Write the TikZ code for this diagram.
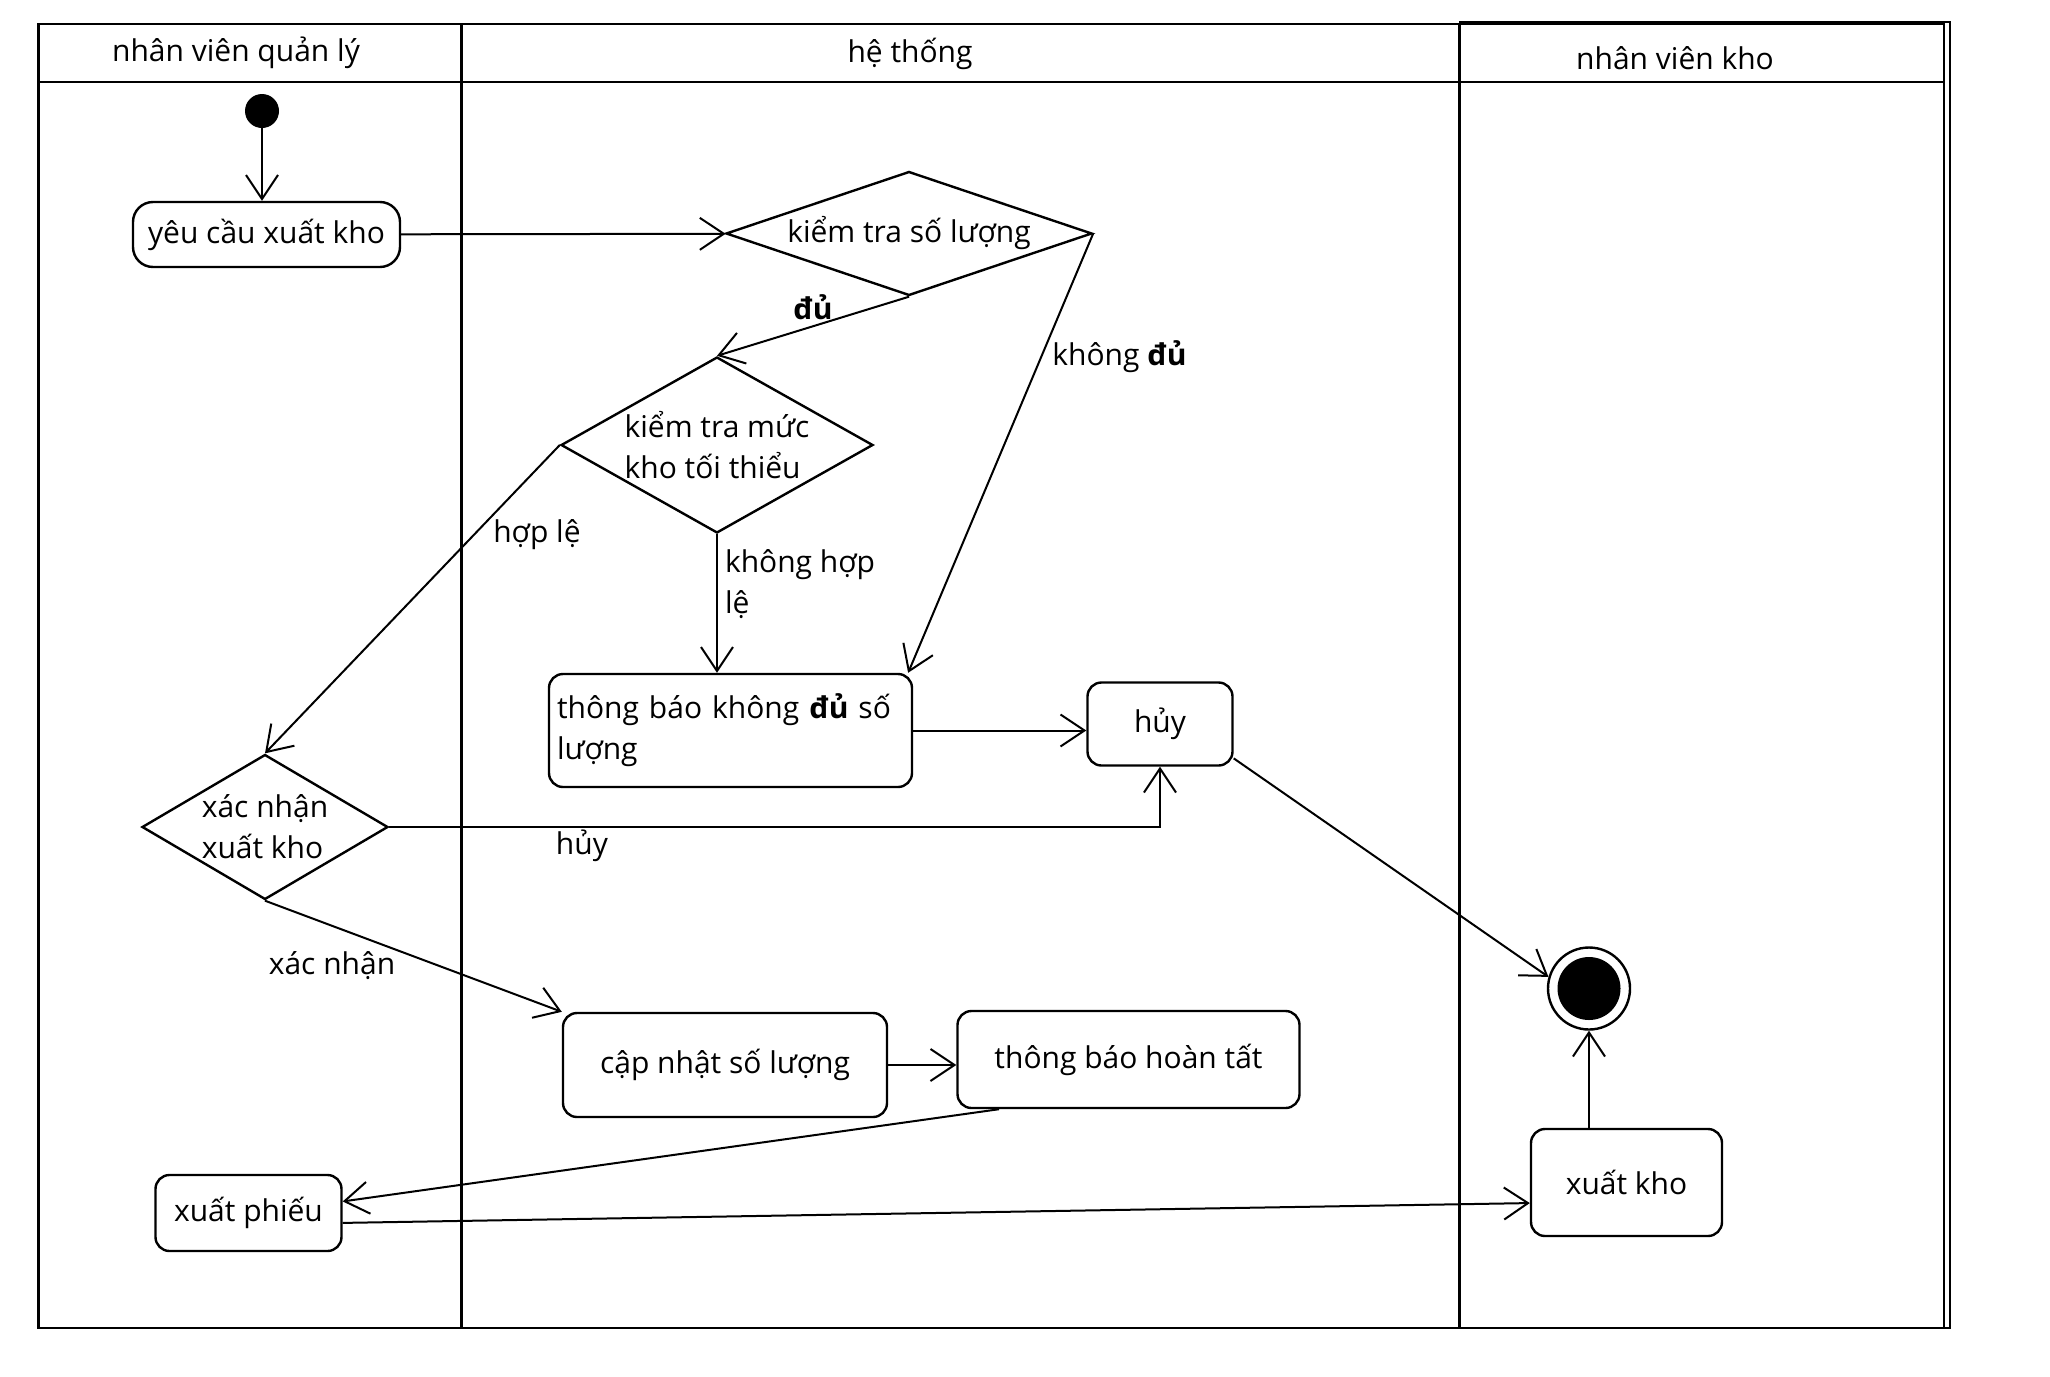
\documentclass[tikz,border=0pt]{standalone}
\usepackage{fontspec}
\setmainfont{Open Sans}
\usepackage{tikz}
\usetikzlibrary{shapes.geometric, arrows.meta}
\tikzstyle{activity} = [rectangle, rounded corners=14pt, draw=black, line width=2.4pt, inner sep=0pt, text centered]
\tikzstyle{decision} = [diamond, draw=black, line width=2.4pt, inner sep=0pt, text centered]
\tikzstyle{initnode} = [circle, fill=black, minimum size=34pt, inner sep=0pt]
\tikzstyle{endring} = [circle, draw=black, line width=2.4pt, minimum size=82pt, inner sep=0pt]
\tikzstyle{enddot} = [circle, fill=black, minimum size=63pt, inner sep=0pt]
\tikzstyle{lane} = [line width=2.4pt]
\tikzstyle{guard} = [inner sep=2pt]
\tikzstyle{arrow} = [line width=2pt, -{Straight Barb[length=24pt, width=32pt]}]

\begin{document}
\begin{tikzpicture}[x=1pt, y=-1pt, font=\fontsize{30}{41}\selectfont]
    \useasboundingbox (0,0) rectangle (2050,1376);
    % swimlanes
    \draw [lane] (38.6,24) rectangle (1944,1328);
    \draw [lane] (38.6,82) -- (1944,82);
    \draw [lane] (461.6,24) -- (461.6,1328);
    \draw [lane] (1459.4,24) -- (1459.4,1328);
    \draw [lane] (1459.4,22) -- (1950,22) -- (1950,1328) -- (1944,1328);
    \node (lane_manager) at (236,53) {nhân viên quản lý};
    \node (lane_system) at (910,54) {hệ thống};
    \node (lane_store) at (1675,58) {nhân viên kho};

    \node (start) [initnode] at (262,111) {};
    \node (request) [activity, rounded corners=20pt, minimum width=267pt, minimum height=65pt] at (266.5,234.5) {yêu cầu xuất kho};
    \node (check_qty) [decision, aspect=2.95, minimum width=366pt, minimum height=124pt] at (909,233.5) {kiểm tra số lượng};
    \node (check_min) [decision, aspect=1.77, minimum width=312pt, minimum height=176pt, align=left] at (717,445) {kiểm tra mức\\kho tối thiểu};
    \node (notify_short) [activity, minimum width=363pt, minimum height=113pt, text width=347pt, align=left] at (730.5,730.5) {thông báo không \textbf{đủ} số\\lượng};
    \node (cancel) [activity, minimum width=145pt, minimum height=83pt] at (1160,724) {hủy};
    \node (confirm) [decision, aspect=1.69, minimum width=246pt, minimum height=145pt, align=left] at (265,827) {xác nhận\\xuất kho};
    \node (update) [activity, minimum width=324pt, minimum height=104pt] at (725,1065) {cập nhật số lượng};
    \node (notify_done) [activity, minimum width=342pt, minimum height=97pt] at (1128.5,1059.5) {thông báo hoàn tất};
    \node (slip) [activity, minimum width=186pt, minimum height=76pt] at (248.5,1213) {xuất phiếu};
    \node (export) [activity, minimum width=191pt, minimum height=107pt] at (1626.5,1182.5) {xuất kho};
    \node (final) [endring] at (1589,988.5) {};
    \node (final_dot) [enddot] at (final) {};

    % flows
    \draw [arrow] (start) -- (start |- request.north);
    \draw [arrow] (request) -- (check_qty);
    \draw [arrow] (check_qty.south) -- node[guard, yshift=19pt] {\textbf{đủ}} (check_min.north);
    \draw [arrow] (check_qty.east) -- node[guard, pos=0.28, anchor=west, xshift=8pt] {không \textbf{đủ}} (notify_short.18.8);
    \draw [arrow] (check_min.south) -- node[guard, pos=0.36, anchor=west, align=left, xshift=5pt] {không hợp\\lệ} (check_min.south |- notify_short.north);
    \draw [arrow] (check_min.west) -- node[guard, pos=0.29, anchor=west, xshift=16pt] {hợp lệ} (confirm.north);
    \draw [arrow] (notify_short.east) -- (cancel.west |- notify_short.east);
    \draw [arrow] (confirm.east) -| node[guard, pos=0.125, below] {hủy} (cancel.south);
    \draw [arrow] (confirm.south) -- node[guard, pos=0.55, anchor=east, xshift=-30pt, yshift=-4pt] {xác nhận} (update.north west);
    \draw [arrow] (update.east) -- (update.east -| notify_done.west);
    \draw [arrow] (notify_done.201) -- (slip.7);
    \draw [arrow] (slip.-6) -- (export.192.5);
    \draw [arrow] (final.south |- export.north) -- (final.south);
    \draw [arrow] (cancel.-25) -- (final.164);
\end{tikzpicture}
\end{document}
